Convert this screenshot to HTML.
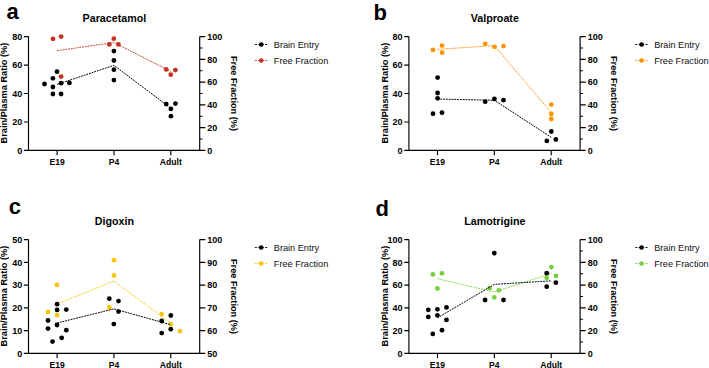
<!DOCTYPE html>
<html><head><meta charset="utf-8"><style>
html,body{margin:0;padding:0;background:#fff;}
body{width:709px;height:368px;overflow:hidden;}
svg{display:block;}
text{font-family:"Liberation Sans",sans-serif;}
.let{font-size:22px;font-weight:bold;fill:#000;}
.tt{font-size:10.7px;font-weight:bold;fill:#000;}
.tk{font-size:9px;font-weight:bold;fill:#000;}
.xl{font-size:8.6px;font-weight:bold;fill:#000;}
.yt{font-size:9.2px;font-weight:bold;fill:#000;}
.lg{font-size:9.6px;fill:#111;}
</style></head><body>
<svg width="709" height="368" viewBox="0 0 709 368">
<rect width="709" height="368" fill="#fff"/>
<text x="6.6" y="18.7" class="let">a</text>
<text x="114.4" y="22" class="tt" text-anchor="middle">Paracetamol</text>
<text x="22.2" y="153.65" class="tk" text-anchor="end">0</text>
<text x="22.2" y="125.2" class="tk" text-anchor="end">20</text>
<text x="22.2" y="96.75" class="tk" text-anchor="end">40</text>
<text x="22.2" y="68.3" class="tk" text-anchor="end">60</text>
<text x="22.2" y="39.85" class="tk" text-anchor="end">80</text>
<text x="207.3" y="153.65" class="tk">0</text>
<text x="207.3" y="130.89" class="tk">20</text>
<text x="207.3" y="108.13" class="tk">40</text>
<text x="207.3" y="85.37" class="tk">60</text>
<text x="207.3" y="62.61" class="tk">80</text>
<text x="207.3" y="39.85" class="tk">100</text>
<text x="57.1" y="164.8" class="xl" text-anchor="middle">E19</text>
<text x="113.95" y="164.8" class="xl" text-anchor="middle">P4</text>
<text x="170.8" y="164.8" class="xl" text-anchor="middle">Adult</text>
<path d="M28.5 36.6V150.4H199.7V36.6M23.9 150.4H28.5M23.9 121.95H28.5M23.9 93.5H28.5M23.9 65.05H28.5M23.9 36.6H28.5M199.7 150.4H205.3M199.7 127.64H205.3M199.7 104.88H205.3M199.7 82.12H205.3M199.7 59.36H205.3M199.7 36.6H205.3M199.7 139.02H202.6M199.7 116.26H202.6M199.7 93.5H202.6M199.7 70.74H202.6M199.7 47.98H202.6M57.1 150.4V155.2M113.95 150.4V155.2M170.8 150.4V155.2" fill="none" stroke="#000" stroke-width="1.15"/>
<text class="yt" text-anchor="middle" transform="translate(7.3 93.1) rotate(-90)">Brain/Plasma Ratio (%)</text>
<text class="yt" text-anchor="middle" transform="translate(230.9 93.5) rotate(90)">Free Fraction (%)</text>
<path d="M254.8 44.5H267.7" stroke="#000" stroke-width="0.85" stroke-dasharray="2.2 1.2"/>
<circle cx="261.2" cy="44.5" r="2.35" fill="#000"/>
<text x="273.8" y="47.6" class="lg" textLength="45.3" lengthAdjust="spacingAndGlyphs">Brain Entry</text>
<path d="M254.8 60.5H267.7" stroke="#C6321E" stroke-width="0.85" stroke-dasharray="2.2 1.2"/>
<circle cx="261.2" cy="60.5" r="2.35" fill="#C6321E"/>
<text x="273.8" y="63.6" class="lg" textLength="54.5" lengthAdjust="spacingAndGlyphs">Free Fraction</text>
<circle cx="53" cy="38.8" r="2.4" fill="#C6321E"/>
<circle cx="61.1" cy="36.6" r="2.4" fill="#C6321E"/>
<circle cx="61.1" cy="76.6" r="2.4" fill="#C6321E"/>
<circle cx="113.8" cy="38.7" r="2.4" fill="#C6321E"/>
<circle cx="109.3" cy="44.4" r="2.4" fill="#C6321E"/>
<circle cx="118.4" cy="44.4" r="2.4" fill="#C6321E"/>
<circle cx="166.2" cy="69.4" r="2.4" fill="#C6321E"/>
<circle cx="175.4" cy="70.1" r="2.4" fill="#C6321E"/>
<circle cx="170.8" cy="74.7" r="2.4" fill="#C6321E"/>
<path d="M57.1 50.67 L113.95 42.5 L170.8 71.4" fill="none" stroke="#C6321E" stroke-width="0.9" stroke-dasharray="1.9 0.9"/>
<circle cx="57" cy="71.7" r="2.4" fill="#000"/>
<circle cx="52.9" cy="78.3" r="2.4" fill="#000"/>
<circle cx="44.5" cy="84" r="2.4" fill="#000"/>
<circle cx="61.1" cy="83.2" r="2.4" fill="#000"/>
<circle cx="69.4" cy="82.9" r="2.4" fill="#000"/>
<circle cx="52.9" cy="87" r="2.4" fill="#000"/>
<circle cx="52.9" cy="94" r="2.4" fill="#000"/>
<circle cx="61.1" cy="94" r="2.4" fill="#000"/>
<circle cx="113.9" cy="51.1" r="2.4" fill="#000"/>
<circle cx="113.9" cy="60.5" r="2.4" fill="#000"/>
<circle cx="113.9" cy="69.7" r="2.4" fill="#000"/>
<circle cx="113.9" cy="80.1" r="2.4" fill="#000"/>
<circle cx="166.2" cy="104.1" r="2.4" fill="#000"/>
<circle cx="175.4" cy="103.6" r="2.4" fill="#000"/>
<circle cx="170.9" cy="108.9" r="2.4" fill="#000"/>
<circle cx="170.9" cy="116.2" r="2.4" fill="#000"/>
<path d="M57.1 84.39 L113.95 65.35 L170.8 108.2" fill="none" stroke="#000" stroke-width="1.0" stroke-dasharray="1.9 0.9"/>
<text x="373.4" y="20" class="let">b</text>
<text x="494.8" y="22" class="tt" text-anchor="middle">Valproate</text>
<text x="402.6" y="153.65" class="tk" text-anchor="end">0</text>
<text x="402.6" y="125.2" class="tk" text-anchor="end">20</text>
<text x="402.6" y="96.75" class="tk" text-anchor="end">40</text>
<text x="402.6" y="68.3" class="tk" text-anchor="end">60</text>
<text x="402.6" y="39.85" class="tk" text-anchor="end">80</text>
<text x="587.7" y="153.65" class="tk">0</text>
<text x="587.7" y="130.89" class="tk">20</text>
<text x="587.7" y="108.13" class="tk">40</text>
<text x="587.7" y="85.37" class="tk">60</text>
<text x="587.7" y="62.61" class="tk">80</text>
<text x="587.7" y="39.85" class="tk">100</text>
<text x="437.5" y="164.8" class="xl" text-anchor="middle">E19</text>
<text x="494.35" y="164.8" class="xl" text-anchor="middle">P4</text>
<text x="551.2" y="164.8" class="xl" text-anchor="middle">Adult</text>
<path d="M408.9 36.6V150.4H580.1V36.6M404.3 150.4H408.9M404.3 121.95H408.9M404.3 93.5H408.9M404.3 65.05H408.9M404.3 36.6H408.9M580.1 150.4H585.7M580.1 127.64H585.7M580.1 104.88H585.7M580.1 82.12H585.7M580.1 59.36H585.7M580.1 36.6H585.7M580.1 139.02H583M580.1 116.26H583M580.1 93.5H583M580.1 70.74H583M580.1 47.98H583M437.5 150.4V155.2M494.35 150.4V155.2M551.2 150.4V155.2" fill="none" stroke="#000" stroke-width="1.15"/>
<text class="yt" text-anchor="middle" transform="translate(387.7 93.1) rotate(-90)">Brain/Plasma Ratio (%)</text>
<text class="yt" text-anchor="middle" transform="translate(611.3 93.5) rotate(90)">Free Fraction (%)</text>
<path d="M635.2 44.5H648.1" stroke="#000" stroke-width="0.85" stroke-dasharray="2.2 1.2"/>
<circle cx="641.6" cy="44.5" r="2.35" fill="#000"/>
<text x="654.2" y="47.6" class="lg" textLength="45.3" lengthAdjust="spacingAndGlyphs">Brain Entry</text>
<path d="M635.2 60.5H648.1" stroke="#FF9200" stroke-width="0.85" stroke-dasharray="2.2 1.2"/>
<circle cx="641.6" cy="60.5" r="2.35" fill="#FF9200"/>
<text x="654.2" y="63.6" class="lg" textLength="54.5" lengthAdjust="spacingAndGlyphs">Free Fraction</text>
<circle cx="433" cy="49.9" r="2.4" fill="#FF9200"/>
<circle cx="442.1" cy="45.6" r="2.4" fill="#FF9200"/>
<circle cx="442.1" cy="52.7" r="2.4" fill="#FF9200"/>
<circle cx="485.2" cy="43.8" r="2.4" fill="#FF9200"/>
<circle cx="494.5" cy="46.8" r="2.4" fill="#FF9200"/>
<circle cx="503.5" cy="46.1" r="2.4" fill="#FF9200"/>
<circle cx="551.3" cy="104.6" r="2.4" fill="#FF9200"/>
<circle cx="551.3" cy="113.9" r="2.4" fill="#FF9200"/>
<circle cx="551.3" cy="119" r="2.4" fill="#FF9200"/>
<path d="M437.5 49.4 L494.35 45.57 L551.2 112.5" fill="none" stroke="#FF9200" stroke-width="0.9" stroke-dasharray="1.9 0.9"/>
<circle cx="437.6" cy="77.6" r="2.4" fill="#000"/>
<circle cx="437.6" cy="93" r="2.4" fill="#000"/>
<circle cx="437.6" cy="98.3" r="2.4" fill="#000"/>
<circle cx="433" cy="113.7" r="2.4" fill="#000"/>
<circle cx="442" cy="112.7" r="2.4" fill="#000"/>
<circle cx="485.2" cy="101.7" r="2.4" fill="#000"/>
<circle cx="494.4" cy="98.9" r="2.4" fill="#000"/>
<circle cx="503.5" cy="100.2" r="2.4" fill="#000"/>
<circle cx="551.3" cy="131.5" r="2.4" fill="#000"/>
<circle cx="546.8" cy="140.9" r="2.4" fill="#000"/>
<circle cx="555.8" cy="139.5" r="2.4" fill="#000"/>
<path d="M437.5 99.06 L494.35 100.27 L551.2 137.3" fill="none" stroke="#000" stroke-width="1.0" stroke-dasharray="1.9 0.9"/>
<text x="8.8" y="213.6" class="let">c</text>
<text x="114.4" y="225" class="tt" text-anchor="middle">Digoxin</text>
<text x="22.2" y="356.65" class="tk" text-anchor="end">0</text>
<text x="22.2" y="333.89" class="tk" text-anchor="end">10</text>
<text x="22.2" y="311.13" class="tk" text-anchor="end">20</text>
<text x="22.2" y="288.37" class="tk" text-anchor="end">30</text>
<text x="22.2" y="265.61" class="tk" text-anchor="end">40</text>
<text x="22.2" y="242.85" class="tk" text-anchor="end">50</text>
<text x="207.3" y="356.65" class="tk">50</text>
<text x="207.3" y="333.89" class="tk">60</text>
<text x="207.3" y="311.13" class="tk">70</text>
<text x="207.3" y="288.37" class="tk">80</text>
<text x="207.3" y="265.61" class="tk">90</text>
<text x="207.3" y="242.85" class="tk">100</text>
<text x="57.1" y="367.8" class="xl" text-anchor="middle">E19</text>
<text x="113.95" y="367.8" class="xl" text-anchor="middle">P4</text>
<text x="170.8" y="367.8" class="xl" text-anchor="middle">Adult</text>
<path d="M28.5 239.6V353.4H199.7V239.6M23.9 353.4H28.5M23.9 330.64H28.5M23.9 307.88H28.5M23.9 285.12H28.5M23.9 262.36H28.5M23.9 239.6H28.5M199.7 353.4H205.3M199.7 330.64H205.3M199.7 307.88H205.3M199.7 285.12H205.3M199.7 262.36H205.3M199.7 239.6H205.3M57.1 353.4V358.2M113.95 353.4V358.2M170.8 353.4V358.2" fill="none" stroke="#000" stroke-width="1.15"/>
<text class="yt" text-anchor="middle" transform="translate(7.3 296.1) rotate(-90)">Brain/Plasma Ratio (%)</text>
<text class="yt" text-anchor="middle" transform="translate(230.9 296.5) rotate(90)">Free Fraction (%)</text>
<path d="M254.8 247.5H267.7" stroke="#000" stroke-width="0.85" stroke-dasharray="2.2 1.2"/>
<circle cx="261.2" cy="247.5" r="2.35" fill="#000"/>
<text x="273.8" y="250.6" class="lg" textLength="45.3" lengthAdjust="spacingAndGlyphs">Brain Entry</text>
<path d="M254.8 263.5H267.7" stroke="#F9C500" stroke-width="0.85" stroke-dasharray="2.2 1.2"/>
<circle cx="261.2" cy="263.5" r="2.35" fill="#F9C500"/>
<text x="273.8" y="266.6" class="lg" textLength="54.5" lengthAdjust="spacingAndGlyphs">Free Fraction</text>
<circle cx="57" cy="284.9" r="2.4" fill="#F9C500"/>
<circle cx="48" cy="311.9" r="2.4" fill="#F9C500"/>
<circle cx="57.1" cy="315.1" r="2.4" fill="#F9C500"/>
<circle cx="114" cy="260.2" r="2.4" fill="#F9C500"/>
<circle cx="114" cy="275.4" r="2.4" fill="#F9C500"/>
<circle cx="109.3" cy="307.5" r="2.4" fill="#F9C500"/>
<circle cx="161.7" cy="314.1" r="2.4" fill="#F9C500"/>
<circle cx="170.8" cy="324.3" r="2.4" fill="#F9C500"/>
<circle cx="179.9" cy="331.1" r="2.4" fill="#F9C500"/>
<path d="M57.1 303.97 L113.95 281.03 L170.8 323.17" fill="none" stroke="#F9C500" stroke-width="0.9" stroke-dasharray="1.9 0.9"/>
<circle cx="57.1" cy="304.2" r="2.4" fill="#000"/>
<circle cx="57.1" cy="309.9" r="2.4" fill="#000"/>
<circle cx="66.3" cy="309.6" r="2.4" fill="#000"/>
<circle cx="48" cy="320.5" r="2.4" fill="#000"/>
<circle cx="57" cy="325" r="2.4" fill="#000"/>
<circle cx="48" cy="328.6" r="2.4" fill="#000"/>
<circle cx="66.3" cy="330.2" r="2.4" fill="#000"/>
<circle cx="61.7" cy="337.8" r="2.4" fill="#000"/>
<circle cx="52.5" cy="341.6" r="2.4" fill="#000"/>
<circle cx="109.3" cy="298.7" r="2.4" fill="#000"/>
<circle cx="118.5" cy="301.1" r="2.4" fill="#000"/>
<circle cx="118.5" cy="311.6" r="2.4" fill="#000"/>
<circle cx="113.8" cy="324.1" r="2.4" fill="#000"/>
<circle cx="170.8" cy="315.5" r="2.4" fill="#000"/>
<circle cx="161.7" cy="321" r="2.4" fill="#000"/>
<circle cx="170.8" cy="329.2" r="2.4" fill="#000"/>
<circle cx="161.7" cy="333.1" r="2.4" fill="#000"/>
<path d="M57.1 323.04 L113.95 308.88 L170.8 324.7" fill="none" stroke="#000" stroke-width="1.0" stroke-dasharray="1.9 0.9"/>
<text x="375.6" y="215.8" class="let">d</text>
<text x="494.8" y="225" class="tt" text-anchor="middle">Lamotrigine</text>
<text x="402.6" y="356.65" class="tk" text-anchor="end">0</text>
<text x="402.6" y="333.89" class="tk" text-anchor="end">20</text>
<text x="402.6" y="311.13" class="tk" text-anchor="end">40</text>
<text x="402.6" y="288.37" class="tk" text-anchor="end">60</text>
<text x="402.6" y="265.61" class="tk" text-anchor="end">80</text>
<text x="402.6" y="242.85" class="tk" text-anchor="end">100</text>
<text x="587.7" y="356.65" class="tk">0</text>
<text x="587.7" y="333.89" class="tk">20</text>
<text x="587.7" y="311.13" class="tk">40</text>
<text x="587.7" y="288.37" class="tk">60</text>
<text x="587.7" y="265.61" class="tk">80</text>
<text x="587.7" y="242.85" class="tk">100</text>
<text x="437.5" y="367.8" class="xl" text-anchor="middle">E19</text>
<text x="494.35" y="367.8" class="xl" text-anchor="middle">P4</text>
<text x="551.2" y="367.8" class="xl" text-anchor="middle">Adult</text>
<path d="M408.9 239.6V353.4H580.1V239.6M404.3 353.4H408.9M404.3 330.64H408.9M404.3 307.88H408.9M404.3 285.12H408.9M404.3 262.36H408.9M404.3 239.6H408.9M580.1 353.4H585.7M580.1 330.64H585.7M580.1 307.88H585.7M580.1 285.12H585.7M580.1 262.36H585.7M580.1 239.6H585.7M580.1 342.02H583M580.1 319.26H583M580.1 296.5H583M580.1 273.74H583M580.1 250.98H583M437.5 353.4V358.2M494.35 353.4V358.2M551.2 353.4V358.2" fill="none" stroke="#000" stroke-width="1.15"/>
<text class="yt" text-anchor="middle" transform="translate(387.7 296.1) rotate(-90)">Brain/Plasma Ratio (%)</text>
<text class="yt" text-anchor="middle" transform="translate(611.3 296.5) rotate(90)">Free Fraction (%)</text>
<path d="M635.2 247.5H648.1" stroke="#000" stroke-width="0.85" stroke-dasharray="2.2 1.2"/>
<circle cx="641.6" cy="247.5" r="2.35" fill="#000"/>
<text x="654.2" y="250.6" class="lg" textLength="45.3" lengthAdjust="spacingAndGlyphs">Brain Entry</text>
<path d="M635.2 263.5H648.1" stroke="#74D03C" stroke-width="0.85" stroke-dasharray="2.2 1.2"/>
<circle cx="641.6" cy="263.5" r="2.35" fill="#74D03C"/>
<text x="654.2" y="266.6" class="lg" textLength="54.5" lengthAdjust="spacingAndGlyphs">Free Fraction</text>
<circle cx="432.9" cy="274.4" r="2.4" fill="#74D03C"/>
<circle cx="442" cy="273.3" r="2.4" fill="#74D03C"/>
<circle cx="437.4" cy="288.5" r="2.4" fill="#74D03C"/>
<circle cx="489.6" cy="288.2" r="2.4" fill="#74D03C"/>
<circle cx="498.9" cy="290.3" r="2.4" fill="#74D03C"/>
<circle cx="494.3" cy="297.4" r="2.4" fill="#74D03C"/>
<circle cx="551.3" cy="267.1" r="2.4" fill="#74D03C"/>
<circle cx="556" cy="275.9" r="2.4" fill="#74D03C"/>
<circle cx="546.7" cy="277.9" r="2.4" fill="#74D03C"/>
<path d="M437.5 278.73 L494.35 291.97 L551.2 273.63" fill="none" stroke="#74D03C" stroke-width="0.9" stroke-dasharray="1.9 0.9"/>
<circle cx="428.3" cy="309.8" r="2.4" fill="#000"/>
<circle cx="437.4" cy="309.3" r="2.4" fill="#000"/>
<circle cx="446.5" cy="307.4" r="2.4" fill="#000"/>
<circle cx="428.3" cy="316.9" r="2.4" fill="#000"/>
<circle cx="437.4" cy="315.3" r="2.4" fill="#000"/>
<circle cx="446.5" cy="319.9" r="2.4" fill="#000"/>
<circle cx="442" cy="330.2" r="2.4" fill="#000"/>
<circle cx="432.8" cy="333.9" r="2.4" fill="#000"/>
<circle cx="494.3" cy="253.1" r="2.4" fill="#000"/>
<circle cx="485.1" cy="300" r="2.4" fill="#000"/>
<circle cx="503.5" cy="300" r="2.4" fill="#000"/>
<circle cx="546.7" cy="273.2" r="2.4" fill="#000"/>
<circle cx="555.8" cy="282.7" r="2.4" fill="#000"/>
<circle cx="546.7" cy="286.7" r="2.4" fill="#000"/>
<path d="M437.5 317.84 L494.35 284.37 L551.2 280.87" fill="none" stroke="#000" stroke-width="1.0" stroke-dasharray="1.9 0.9"/>
</svg>
</body></html>
